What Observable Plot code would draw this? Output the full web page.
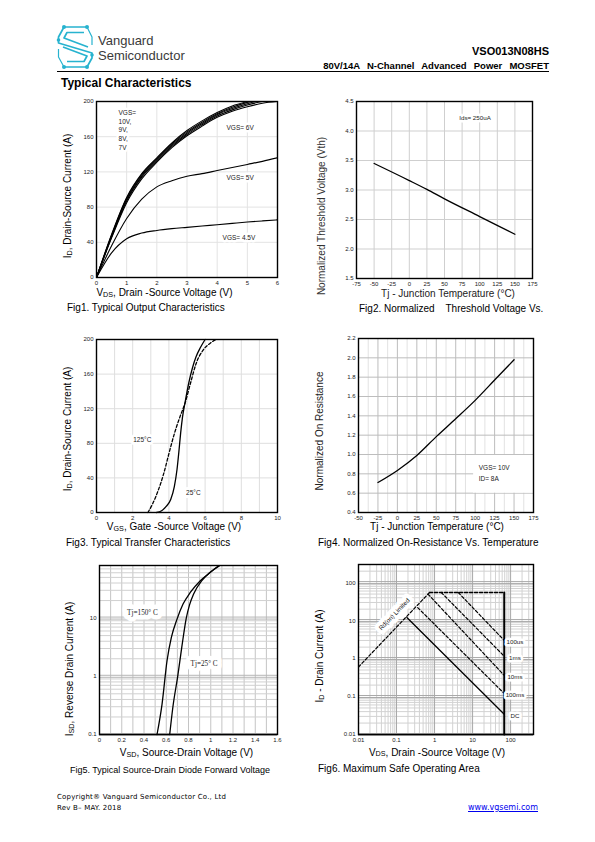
<!DOCTYPE html>
<html><head><meta charset="utf-8">
<script src="https://cdn.jsdelivr.net/npm/d3@7"></script>
<script src="https://cdn.jsdelivr.net/npm/@observablehq/plot@0.6"></script>
<style>
body{margin:0;background:#fff;}
#page{position:relative;width:595px;height:842px;overflow:hidden;background:#fff;font-family:"Liberation Sans",Arial,Helvetica,sans-serif;color:#000;}
.t{position:absolute;white-space:pre;line-height:1;}
.sub{font-size:72%;position:relative;top:0.08em;}
</style></head>
<body><div id="page">
<svg style="position:absolute;left:0;top:0" width="100" height="75" viewBox="0 0 100 75">
  <g fill="none" stroke="#27b3cf" stroke-width="1.7" stroke-linejoin="round">
    <path d="M87,27 L64,27 L58.5,37 L58.5,43 L92,53 L92,58 L87,67 L64,67"/>
    <path d="M84,32.5 L67,32.5 L64,38 L88,47"/>
    <path d="M67,61.5 L84,61.5 L87,56 L63,47"/>
    <path d="M87,27 L92,37 L92,45" stroke-width="1.2"/>
    <path d="M64,67 L58.5,57 L58.5,49" stroke-width="1.2"/>
  </g>
  <g fill="#27b3cf">
    <circle cx="64" cy="27" r="2"/><circle cx="87" cy="27" r="2"/>
    <circle cx="58.5" cy="40" r="1.8"/><circle cx="92" cy="55" r="1.8"/>
    <circle cx="64" cy="67" r="2"/><circle cx="87" cy="67" r="2"/>
  </g>
</svg>
<div style="position:absolute;left:57px;top:70.5px;width:492px;border-top:1.3px solid #000"></div>
</div>
<script>
// ================= DATA =================
// Fig1 – Output characteristics
const fig1Vds   = [0, 0.5, 1, 1.5, 2, 2.5, 3, 3.5, 4, 4.5, 5, 5.5, 6];
const fig1Id10V = [0, 49, 91, 118, 136, 153, 167, 178, 187.5, 195, 200, 204, 207];
const fig1Id9V  = [0, 48, 90, 117, 135, 152, 165.5, 176.5, 186, 193.5, 199, 203, 206];
const fig1Id8V  = [0, 47, 88.5, 115.5, 134, 150.5, 164, 175, 185, 192, 197.5, 201.5, 204];
const fig1Id7V  = [0, 46, 87, 114, 132.5, 149, 162.5, 173.5, 183.5, 190.5, 196, 200, 202.5];
const fig1Id6V  = [0, 45, 85, 112, 131, 147.5, 161, 172, 182, 189, 194, 198, 200];
const fig1Id5V  = [0, 36, 67, 89, 103, 110, 115, 118, 121.5, 125, 128.5, 132, 136];
const fig1Id45V = [0, 28, 44, 50.5, 53.5, 55.5, 57, 58.5, 60, 61.5, 63, 64.3, 65.5];
const fig1XTicks = [0, 1, 2, 3, 4, 5, 6];
const fig1YTicks = [0, 40, 80, 120, 160, 200];

// Fig2 – Threshold voltage vs Tj
const fig2Tj  = [-50, 0, 25, 50, 100, 150];
const fig2Vth = [3.45, 3.16, 3.01, 2.85, 2.55, 2.25];
const fig2XTicks = [-75, -50, -25, 0, 25, 50, 75, 100, 125, 150, 175];
const fig2YTicks = [1.5, 2.0, 2.5, 3.0, 3.5, 4.0, 4.5];

// Fig3 – Transfer characteristics
const fig3Vgs25  = [3.32, 3.6, 3.85, 4.1, 4.3, 4.45, 4.55, 4.65, 4.75, 4.9, 5.1, 5.3, 5.5, 5.75, 6.0];
const fig3Id25   = [0, 2, 7, 15, 30, 50, 70, 92, 110, 128, 150, 167, 180, 191, 200];
const fig3Vgs125 = [2.84, 3.1, 3.4, 3.7, 4.0, 4.3, 4.6, 4.9, 5.2, 5.5, 5.9, 6.3, 6.6];
const fig3Id125  = [0, 10, 25, 44, 68, 91, 110, 127, 150, 172, 188, 196, 200];
const fig3XTicks = [0, 2, 4, 6, 8, 10];
const fig3XGrid  = [1, 2, 3, 4, 5, 6, 7, 8, 9];
const fig3YTicks = [0, 40, 80, 120, 160, 200];

// Fig4 – Normalized on-resistance vs Tj
const fig4Tj  = [-25, 0, 25, 50, 75, 100, 125, 150];
const fig4Rds = [0.71, 0.835, 0.99, 1.185, 1.37, 1.56, 1.77, 1.98];
const fig4XTicks = [-50, -25, 0, 25, 50, 75, 100, 125, 150, 175];
const fig4XMinor = [-37.5, -12.5, 12.5, 37.5, 62.5, 87.5, 112.5, 137.5, 162.5];
const fig4YTicks = [0.4, 0.6, 0.8, 1.0, 1.2, 1.4, 1.6, 1.8, 2.0, 2.2];

// Fig5 – Source-drain diode forward voltage
const fig5Vsd150 = [0.517, 0.562, 0.607, 0.646, 0.697, 0.751, 0.816, 0.906, 0.996, 1.07];
const fig5Isd150 = [0.1, 0.33, 1.85, 4.65, 9.6, 17.4, 27.5, 43.9, 61, 79];
const fig5Vsd25  = [0.631, 0.66, 0.703, 0.74, 0.78, 0.81, 0.846, 0.92, 0.996, 1.08];
const fig5Isd25  = [0.1, 0.3, 1, 3.2, 10, 17, 26, 44, 61, 79];
const fig5XTicks = [0, 0.2, 0.4, 0.6, 0.8, 1.0, 1.2, 1.4, 1.6];
const fig5YTicks = [0.1, 1, 10];

// Fig6 – Safe operating area
const fig6RdsV = [0.01, 0.74],  fig6RdsI = [0.6, 55];
const fig6TopV = [0.74, 68],    fig6TopI = [55, 55];
const fig6MaxV = [68, 68],      fig6MaxI = [0.01, 55];
const fig6P100usV = [4.2, 68],  fig6P100usI = [55, 3.0];
const fig6P1msV   = [1.5, 68],  fig6P1msI   = [55, 1.15];
const fig6P10msV  = [0.67, 68], fig6P10msI  = [50, 0.36];
const fig6P100msV = [0.36, 68], fig6P100msI = [22, 0.12];
const fig6DcV     = [0.187, 68],fig6DcI     = [12, 0.034];
const fig6Names   = ["100us", "1ms", "10ms", "100ms", "DC"];
const fig6NameI   = [2.76, 1.04, 0.32, 0.11, 0.03];
const fig6XTicks = [0.01, 0.1, 1, 10, 100];
const fig6YTicks = [0.01, 0.1, 1, 10, 100];

// ================= HELPERS =================
const page = document.getElementById("page");
const FONT = '"Liberation Sans", Arial, Helvetica, sans-serif';
const M = {l: 34, t: 8, r: 18, b: 18};
const rows = (xs, ys, s) => xs.map((x, i) => ({x, y: ys[i], s}));
function minorLog(lo, hi) {
  const out = [];
  for (let e = lo; e < hi; e++) for (let k = 2; k <= 9; k++) out.push(k * Math.pow(10, e));
  return out;
}
function chart(frame, x, y, marks) {
  const [x0, y0, x1, y1] = frame;
  const width = x1 - x0 + M.l + M.r, height = y1 - y0 + M.t + M.b;
  const svg = Plot.plot({
    width, height, marginLeft: M.l, marginTop: M.t, marginRight: M.r, marginBottom: M.b,
    style: {fontFamily: FONT, fontSize: "6px", color: "#222", background: "transparent", overflow: "visible"},
    x, y, marks
  });
  const d = document.createElement("div");
  d.style.cssText = `position:absolute;left:${x0 - M.l}px;top:${y0 - M.t}px;width:${width}px;height:${height}px;`;
  d.appendChild(svg);
  page.appendChild(d);
}
const str = d => String(d);
const axX = (ticks, fmt = str) => Plot.axisX({ticks, tickFormat: fmt, tickSize: 0, tickPadding: 3, label: null});
const axY = (ticks, fmt = str) => Plot.axisY({ticks, tickFormat: fmt, tickSize: 0, tickPadding: 3, label: null});
const frame = () => Plot.frame({stroke: "black", strokeWidth: 1.4});
function T(html, x, y, o = {}) {
  const d = document.createElement("div");
  d.className = "t";
  d.innerHTML = html;
  const s = d.style;
  s.left = x + "px"; s.top = y + "px";
  s.fontSize = (o.size || 10) + "px";
  if (o.weight) s.fontWeight = o.weight;
  if (o.color) s.color = o.color;
  if (o.family) s.fontFamily = o.family;
  if (o.ws) s.wordSpacing = o.ws + "px";
  if (o.ls) s.letterSpacing = o.ls + "px";
  if (o.deco) s.textDecoration = o.deco;
  const ax = o.anchor === "middle" ? "-50%" : o.anchor === "end" ? "-100%" : "0";
  s.transform = `translate(${ax},-50%)` + (o.rotate ? ` rotate(${o.rotate}deg)` : "");
  page.appendChild(d);
  return d;
}
const f1 = d3.format(".1f");

// ================= FIG 1 =================
const fig1Rows = [
  ...rows(fig1Vds, fig1Id10V, "10"), ...rows(fig1Vds, fig1Id9V, "9"), ...rows(fig1Vds, fig1Id8V, "8"),
  ...rows(fig1Vds, fig1Id7V, "7"), ...rows(fig1Vds, fig1Id6V, "6"), ...rows(fig1Vds, fig1Id5V, "5"),
  ...rows(fig1Vds, fig1Id45V, "4.5")
];
chart([96, 101, 277, 277], {domain: [0, 6]}, {domain: [0, 200]}, [
  Plot.ruleX(fig1XTicks, {stroke: "#e3e3e3"}),
  Plot.ruleY(fig1YTicks, {stroke: "#e3e3e3"}),
  Plot.text(["VGS=\n10V,\n9V,\n8V,\n7V"], {x: 0.73, y: 192, text: d => d, textAnchor: "start", lineAnchor: "top", lineHeight: 1.35, fontSize: 6.5, fill: "#222", stroke: "white", strokeWidth: 5}),
  Plot.text(["VGS= 6V", "VGS= 5V", "VGS= 4.5V"], {x: [4.31, 4.31, 4.18], y: [170.5, 113.6, 45.5], text: d => d, textAnchor: "start", fontSize: 6.5, fill: "#222", stroke: "white", strokeWidth: 5}),
  Plot.line(fig1Rows, {x: "x", y: "y", z: "s", stroke: "black", strokeWidth: 1.1, curve: "monotone-x", clip: true}),
  frame(), axX(fig1XTicks), axY(fig1YTicks)
]);

// ================= FIG 2 =================
chart([356, 101, 532, 278], {domain: [-75, 175]}, {domain: [1.5, 4.5]}, [
  Plot.ruleX(fig2XTicks, {stroke: "#cfcfcf"}),
  Plot.ruleY(fig2YTicks, {stroke: "#cfcfcf"}),
  Plot.text(["Ids= 250uA"], {x: 71, y: 4.22, text: d => d, textAnchor: "start", fontSize: 6.2, fill: "#222", stroke: "white", strokeWidth: 5}),
  Plot.line(rows(fig2Tj, fig2Vth, "a"), {x: "x", y: "y", stroke: "black", strokeWidth: 1.3, curve: "monotone-x"}),
  frame(), axX(fig2XTicks), axY(fig2YTicks, f1)
]);

// ================= FIG 3 =================
chart([96, 339, 277, 512], {domain: [0, 10]}, {domain: [0, 200]}, [
  Plot.ruleX(fig3XGrid, {stroke: "#dedede"}),
  Plot.ruleY(fig3YTicks, {stroke: "#dedede"}),
  Plot.text(["125°C", "25°C"], {x: [2.53, 5.35], y: [83.6, 22.7], text: d => d, fontSize: 6.5, fill: "#222", stroke: "white", strokeWidth: 6}),
  Plot.line(rows(fig3Vgs125, fig3Id125, "125"), {x: "x", y: "y", stroke: "black", strokeWidth: 1.3, strokeDasharray: "3,2", curve: "monotone-x"}),
  Plot.line(rows(fig3Vgs25, fig3Id25, "25"), {x: "x", y: "y", stroke: "black", strokeWidth: 1.3, curve: "monotone-x"}),
  frame(), axX(fig3XTicks), axY(fig3YTicks)
]);

// ================= FIG 4 =================
chart([358, 338, 533, 512], {domain: [-50, 175]}, {domain: [0.4, 2.2]}, [
  Plot.ruleX(fig4XMinor, {stroke: "#e2e2e2"}),
  Plot.ruleX(fig4XTicks, {stroke: "#bdbdbd"}),
  Plot.ruleY(fig4YTicks, {stroke: "#bdbdbd"}),
  Plot.rect([0], {x1: 98, x2: 175, y1: 0.6, y2: 0.99, fill: "white"}),
  Plot.text(["VGS= 10V", "ID= 8A"], {x: [104.6, 104.6], y: [0.863, 0.749], text: d => d, textAnchor: "start", fontSize: 6.5, fill: "#222"}),
  Plot.line(rows(fig4Tj, fig4Rds, "a"), {x: "x", y: "y", stroke: "black", strokeWidth: 1.3, curve: "monotone-x"}),
  frame(), axX(fig4XTicks), axY(fig4YTicks, f1)
]);

// ================= FIG 5 =================
chart([99, 565, 277, 734], {domain: [0, 1.6]}, {type: "log", domain: [0.1, 80]}, [
  Plot.ruleX(d3.range(1, 16).map(k => k / 10), {stroke: "#c4c4c4"}),
  Plot.ruleY(minorLog(-1, 2).filter(v => v <= 80), {stroke: "#d0d0d0"}),
  Plot.ruleY(fig5YTicks, {stroke: "#b5b5b5", dy: -1}),
  Plot.ruleY(fig5YTicks, {stroke: "#b5b5b5", dy: 1}),
  Plot.text(["Tj=150° C", "Tj=25° C"], {x: [0.386, 0.94], y: [12.3, 1.65], text: d => d, fontSize: 7.2, fontFamily: '"Liberation Serif", serif', fill: "#222", stroke: "white", strokeWidth: 9}),
  Plot.line(rows(fig5Vsd150, fig5Isd150, "150"), {x: "x", y: "y", stroke: "black", strokeWidth: 1.3, curve: "monotone-x"}),
  Plot.line(rows(fig5Vsd25, fig5Isd25, "25"), {x: "x", y: "y", stroke: "black", strokeWidth: 1.3, curve: "monotone-x"}),
  frame(), axX(fig5XTicks, d => String(+d.toFixed(1))), axY(fig5YTicks)
]);

// ================= FIG 6 =================
const dash = {x: "x", y: "y", stroke: "black", strokeWidth: 1.2, strokeDasharray: "3,2"};
chart([358, 564, 533, 734], {type: "log", domain: [0.01, 400]}, {type: "log", domain: [0.01, 300]}, [
  Plot.ruleX(minorLog(-2, 3).filter(v => v <= 400), {stroke: "#d2d2d2"}),
  Plot.ruleY(minorLog(-2, 3).filter(v => v <= 300), {stroke: "#d2d2d2"}),
  Plot.ruleX(fig6XTicks, {stroke: "#a8a8a8"}),
  Plot.ruleY(fig6YTicks, {stroke: "#a8a8a8", dy: -1}),
  Plot.ruleY(fig6YTicks, {stroke: "#a8a8a8", dy: 1}),
  Plot.line(rows(fig6RdsV, fig6RdsI, "r"), dash),
  Plot.line(rows(fig6TopV, fig6TopI, "t"), {...dash, strokeWidth: 1.6}),
  Plot.line(rows(fig6P100usV, fig6P100usI, "a"), dash),
  Plot.line(rows(fig6P1msV, fig6P1msI, "b"), dash),
  Plot.line(rows(fig6P10msV, fig6P10msI, "c"), dash),
  Plot.line(rows(fig6P100msV, fig6P100msI, "d"), dash),
  Plot.line(rows(fig6DcV, fig6DcI, "e"), {x: "x", y: "y", stroke: "black", strokeWidth: 1.3}),
  Plot.line(rows(fig6MaxV, fig6MaxI, "m"), {x: "x", y: "y", stroke: "black", strokeWidth: 2}),
  Plot.text(["Rd(on) Limited"], {x: 0.0875, y: 14.7, text: d => d, rotate: -46, fontSize: 6.3, fill: "#222", stroke: "white", strokeWidth: 8}),
  Plot.text(fig6Names, {x: 130, y: (d, i) => fig6NameI[i], text: d => d, fontSize: 6.2, fill: "#222", stroke: "white", strokeWidth: 5}),
  frame(), axX(fig6XTicks), axY(fig6YTicks)
]);

// ================= TEXT =================
T("Vanguard", 98, 40, {size: 13, color: "#3a3a3a"});
T("Semiconductor", 98, 55, {size: 13, color: "#3a3a3a"});
T("VSO013N08HS", 549, 51, {size: 11, weight: "bold", anchor: "end"});
T("80V/14A N-Channel Advanced Power MOSFET", 549, 65.5, {size: 9.5, weight: "bold", anchor: "end", ws: 4.5});
T("Typical Characteristics", 61, 83, {size: 12, weight: "bold"});

// axis titles
T('I<span class="sub">D</span>, Drain-Source Current (A)', 68, 195.5, {anchor: "middle", rotate: -90});
T('V<span class="sub">DS</span>, Drain -Source Voltage (V)', 164.5, 293, {anchor: "middle"});
T("Normalized Threshold Voltage (Vth)", 321.7, 215.5, {anchor: "middle", rotate: -90, color: "#333"});
T("Tj - Junction Temperature (°C)", 448, 294, {anchor: "middle", color: "#222"});
T('I<span class="sub">D</span>, Drain-Source Current (A)', 68, 429, {anchor: "middle", rotate: -90});
T('V<span class="sub">GS</span>, Gate -Source Voltage (V)', 174, 527, {anchor: "middle"});
T("Normalized On Resistance", 320, 430.5, {anchor: "middle", rotate: -90, color: "#222"});
T("Tj - Junction Temperature (°C)", 437, 527.3, {anchor: "middle"});
T('I<span class="sub">SD</span>, Reverse Drain Current (A)', 70, 669, {anchor: "middle", rotate: -90});
T('V<span class="sub">SD</span>, Source-Drain Voltage (V)', 186.5, 753.3, {anchor: "middle"});
T('I<span class="sub">D</span> - Drain Current (A)', 320, 656, {anchor: "middle", rotate: -90});
T('V<span class="sub">DS</span>, Drain -Source Voltage (V)', 437, 752.7, {anchor: "middle"});

// captions
T("Fig1. Typical Output Characteristics", 67, 308);
T("Fig2. Normalized    Threshold Voltage Vs.", 359, 309);
T("Fig3. Typical Transfer Characteristics", 66, 543);
T("Fig4. Normalized On-Resistance Vs. Temperature", 318, 543);
T("Fig5. Typical Source-Drain Diode Forward Voltage", 70, 769.5, {size: 9});
T("Fig6. Maximum Safe Operating Area", 318, 769);

// footer
T("Copyright® Vanguard Semiconductor Co., Ltd", 57, 797, {size: 7, family: '"DejaVu Sans", sans-serif', ls: 0.2});
T("Rev B– MAY. 2018", 57, 807.5, {size: 7, family: '"DejaVu Sans", sans-serif', ls: 0.2});
T("www.vgsemi.com", 538, 807.5, {size: 8, family: '"DejaVu Sans", sans-serif', color: "#0000ee", anchor: "end", deco: "underline"});
</script>
</body></html>
